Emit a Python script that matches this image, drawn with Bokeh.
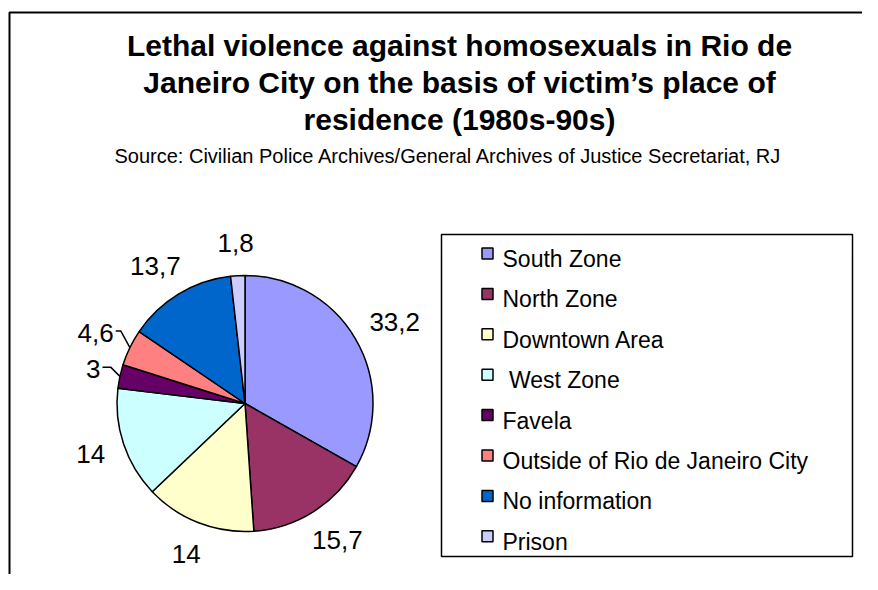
import math
from bokeh.plotting import figure
from bokeh.models import Range1d
from bokeh.core.properties import value
from bokeh.embed import file_html
from bokeh.resources import INLINE

# ---------------- data ----------------
categories = ["South Zone", "North Zone", "Downtown Area", "\u00a0West Zone", "Favela",
              "Outside of Rio de Janeiro City", "No information", "Prison"]
values = [33.2, 15.7, 14, 14, 3, 4.6, 13.7, 1.8]
colors = ["#9999FF", "#993366", "#FFFFCC", "#CCFFFF", "#660066", "#FF8080", "#0066CC", "#CCCCFF"]
title_lines = ["Lethal violence against homosexuals in Rio de",
               "Janeiro City on the basis of victim\u2019s place of",
               "residence (1980s-90s)"]
subtitle = "Source: Civilian Police Archives/General Archives of Justice Secretariat, RJ"
leader = [False, False, False, False, True, True, False, False]

FONT = "Liberation Sans"
W, H = 862, 574


def X(px):
    return px


def Y(py):
    # picture pixel y -> data y
    return H - py


p = figure(width=W, height=H, output_backend="svg", toolbar_location=None,
           x_range=Range1d(0, W), y_range=Range1d(0, H), min_border=0)
p.axis.visible = False
p.grid.visible = False
p.outline_line_color = None
p.background_fill_color = "white"
p.border_fill_color = "white"

# outer chart frame: only its left and top edges fall inside the picture
p.line(x=[X(9), X(9), W + 5], y=[-5, Y(12), Y(12)], line_color="black", line_width=2)

# titles
for i, t in enumerate(title_lines):
    p.text(x=[X(459)], y=[Y(44.5 + i * 37)], text=[t], text_font=value(FONT), text_font_size="30px",
           text_font_style="bold", text_align="center", text_baseline="middle", text_color="black")
p.text(x=[X(448)], y=[Y(155)], text=[subtitle], text_font=value(FONT), text_font_size="20px",
       text_align="center", text_baseline="middle", text_color="black")

# pie
cx, cy, r = 244.5, 403.0, 128.0
total = sum(values)
starts, ends, mids = [], [], []
cum = 0.0
for v in values:
    a0 = math.pi / 2 - 2 * math.pi * cum / total
    cum += v
    a1 = math.pi / 2 - 2 * math.pi * cum / total
    starts.append(a0)
    ends.append(a1)
    mids.append((a0 + a1) / 2)

p.wedge(x=[X(cx)] * len(values), y=[Y(cy)] * len(values), radius=r, start_angle=starts, end_angle=ends,
        direction="clock", fill_color=colors, line_color="black", line_width=1.5)


def fmt(v):
    return f"{v:g}".replace(".", ",")


LFS = 26
R0 = 148
lx, ly, lt = [], [], []
for v, m, lead in zip(values, mids, leader):
    s = fmt(v)
    w = LFS * sum(0.556 if ch.isdigit() else 0.278 for ch in s)
    h = 26
    c, sn = math.cos(m), math.sin(m)
    x = cx + R0 * c + w / 2 * c
    y = cy - R0 * sn - h / 2 * sn
    lx.append(X(x))
    ly.append(Y(y))
    lt.append(s)
    if lead:
        ex, ey = cx + r * c, cy - r * sn
        xs = [X(x + w / 2 + 2), X(ex - 9), X(ex)]
        ys = [Y(y - 2), Y(y - 2), Y(ey)]
        p.line(x=xs, y=ys, line_color="black", line_width=1.5)

p.text(x=lx, y=ly, text=lt, text_font=value(FONT), text_font_size=f"{LFS}px",
       text_align="center", text_baseline="middle", text_color="black")

# legend
p.quad(left=[X(441)], right=[X(852)], top=[Y(234)], bottom=[Y(556)], fill_color="white",
       line_color="black", line_width=1.5)
step = 40.4
sx = [X(487)] * len(categories)
sy = [Y(253 + i * step) for i in range(len(categories))]
p.rect(x=sx, y=sy, width=11, height=11, fill_color=colors, line_color="black", line_width=1.5)
tx = [X(502)] * len(categories)
ty = [Y(258.5 + i * step) for i in range(len(categories))]
p.text(x=tx, y=ty, text=categories, text_font=value(FONT), text_font_size="23px",
       text_align="left", text_baseline="middle", text_color="black")

open("out.html", "w").write(file_html(p, INLINE))
